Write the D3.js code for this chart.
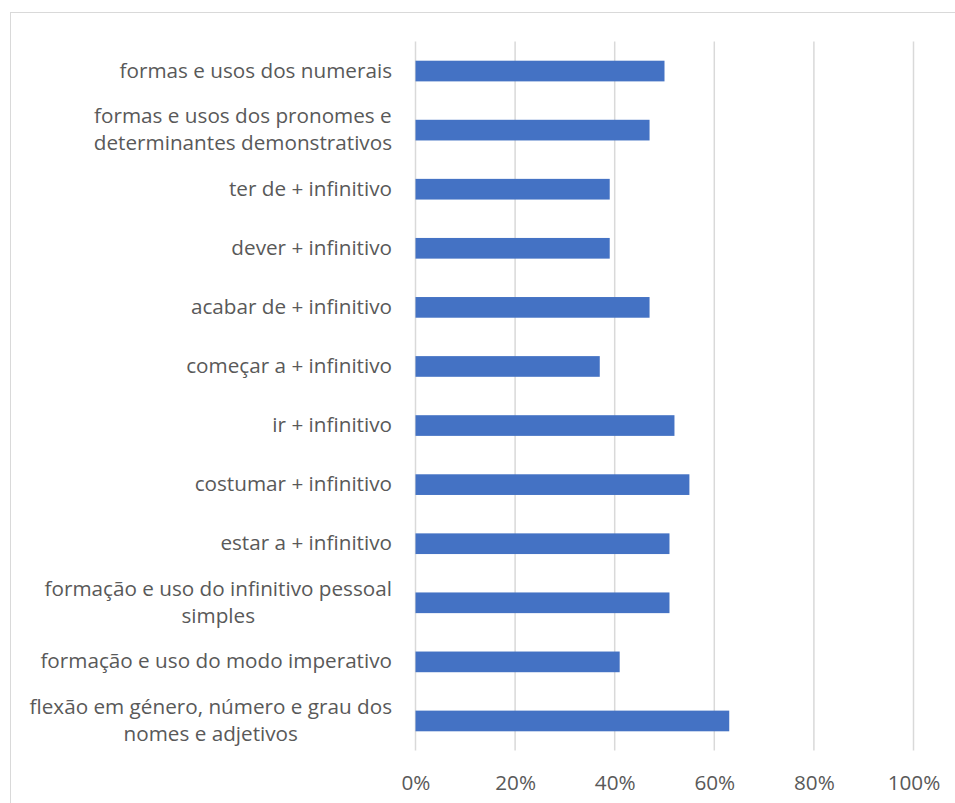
<!DOCTYPE html>
<html>
<head>
<meta charset="utf-8">
<script src="https://cdn.jsdelivr.net/npm/d3@7"></script>
<style>
  html, body { margin: 0; padding: 0; background: #fff; }
  svg { display: block; }
  text { font-family: "Open Sans", "Noto Sans", sans-serif; fill: #595959; }
</style>
</head>
<body>
<svg id="chart" width="955" height="803"></svg>
<script>
// Category labels, top to bottom; "\n" marks a wrapped line
const categories = [
  "formas e usos dos numerais",
  "formas e usos dos pronomes e\ndeterminantes demonstrativos",
  "ter de + infinitivo",
  "dever + infinitivo",
  "acabar de + infinitivo",
  "começar a + infinitivo",
  "ir + infinitivo",
  "costumar + infinitivo",
  "estar a + infinitivo",
  "formação e uso do infinitivo pessoal\nsimples",
  "formação e uso do modo imperativo",
  "flexão em género, número e grau dos\nnomes e adjetivos"
];
// Share for each category (fraction of 1)
const values = [0.50, 0.47, 0.39, 0.39, 0.47, 0.37, 0.52, 0.55, 0.51, 0.51, 0.41, 0.63];
// Axis ticks
const tickValues = [0, 0.2, 0.4, 0.6, 0.8, 1.0];

const fontSize = 20.7;
const svg = d3.select("#chart");

// Chart area frame
svg.append("rect")
  .attr("x", 10.5).attr("y", 12.5)
  .attr("width", 1000).attr("height", 1000)
  .attr("fill", "#fff")
  .attr("stroke", "#d9d9d9")
  .attr("stroke-width", 1);

const plot = { left: 415.5, right: 913.5, top: 41.5, bottom: 750.5 };

const x = d3.scaleLinear().domain([0, 1]).range([plot.left, plot.right]);
const y = d3.scaleBand()
  .domain(categories)
  .range([plot.top, plot.bottom])
  .paddingInner(0.65)
  .paddingOuter(0.325);

// Vertical gridlines
svg.append("g")
  .selectAll("line")
  .data(tickValues)
  .join("line")
  .attr("x1", d => x(d)).attr("x2", d => x(d))
  .attr("y1", plot.top).attr("y2", plot.bottom)
  .attr("stroke", "#d9d9d9")
  .attr("stroke-width", 1.5);

// Bars
svg.append("g")
  .selectAll("rect")
  .data(categories)
  .join("rect")
  .attr("x", x(0))
  .attr("y", d => y(d))
  .attr("width", (d, i) => x(values[i]) - x(0))
  .attr("height", y.bandwidth())
  .attr("fill", "#4472c4");

// X axis tick labels
const xAxis = d3.axisBottom(x)
  .tickValues(tickValues)
  .tickFormat(d3.format(".0%"))
  .tickSize(0)
  .tickPadding(0);
const gx = svg.append("g")
  .attr("transform", `translate(0,${plot.bottom})`)
  .call(xAxis);
gx.select(".domain").remove();
gx.selectAll("text")
  .attr("dy", null)
  .attr("y", 39)
  .attr("font-size", fontSize)
  .attr("font-family", null)
  .style("fill", "#595959");

// Category labels, wrapped lines centred on each other, block right-aligned
const labelRight = 392;
const lineH = 27;
const lg = svg.append("g");
categories.forEach(cat => {
  const lines = cat.split("\n");
  const cy = y(cat) + y.bandwidth() / 2;
  const t = lg.append("text")
    .attr("font-size", fontSize)
    .attr("text-anchor", "middle");
  lines.forEach((ln, j) => {
    t.append("tspan")
      .attr("y", cy + 6.5 + (j - (lines.length - 1) / 2) * lineH)
      .text(ln);
  });
  let maxW = 0;
  t.selectAll("tspan").each(function () {
    maxW = Math.max(maxW, this.getComputedTextLength());
  });
  t.selectAll("tspan").attr("x", labelRight - maxW / 2);
});
</script>
</body>
</html>
